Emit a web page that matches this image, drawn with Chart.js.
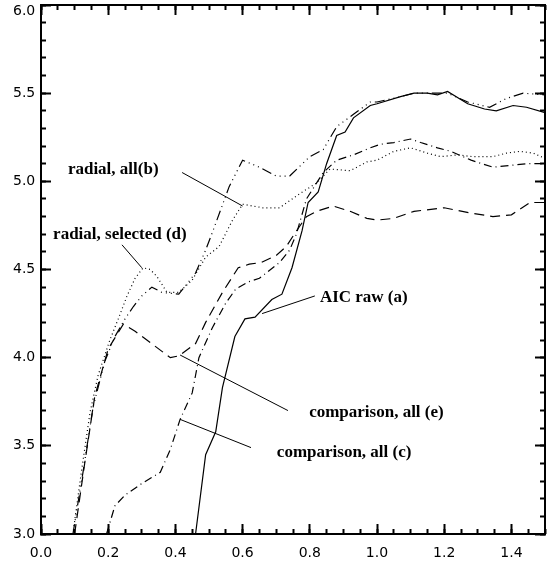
<!DOCTYPE html>
<html>
<head>
<meta charset="utf-8">
<script src="https://cdn.jsdelivr.net/npm/chart.js@4/dist/chart.umd.min.js"></script>
<style>
html,body{margin:0;padding:0;background:#fff;}
#wrap{width:551px;height:565px;position:relative;}
</style>
</head>
<body>
<div id="wrap"><canvas id="c"></canvas></div>
<script>
// ---- data ----
const xTickLabels = ["0.0","0.2","0.4","0.6","0.8","1.0","1.2","1.4"];
const yTickLabels = ["3.0","3.5","4.0","4.5","5.0","5.5","6.0"];

// (a) AIC raw - solid
const xA = [0.46,0.49,0.52,0.54,0.577,0.607,0.637,0.687,0.717,0.747,0.777,0.795,0.825,0.85,0.88,0.905,0.93,0.98,1.0,1.07,1.11,1.15,1.18,1.21,1.27,1.32,1.355,1.405,1.445,1.5];
const yA = [3.0,3.45,3.58,3.83,4.12,4.22,4.23,4.33,4.36,4.51,4.72,4.88,4.94,5.10,5.26,5.28,5.36,5.43,5.44,5.48,5.50,5.50,5.49,5.51,5.44,5.41,5.40,5.43,5.42,5.39];

// dotted
const xB = [0.095,0.12,0.146,0.17,0.205,0.23,0.256,0.28,0.304,0.325,0.345,0.375,0.41,0.45,0.49,0.53,0.57,0.60,0.66,0.71,0.77,0.82,0.86,0.92,0.97,1.0,1.05,1.10,1.15,1.19,1.24,1.285,1.345,1.385,1.425,1.465,1.5];
const yB = [3.0,3.35,3.69,3.90,4.10,4.22,4.35,4.45,4.51,4.50,4.46,4.37,4.37,4.44,4.57,4.63,4.78,4.87,4.85,4.85,4.93,4.99,5.07,5.06,5.11,5.12,5.17,5.19,5.16,5.14,5.15,5.14,5.14,5.16,5.17,5.16,5.13];

// dash-dot-dot-dot
const xD = [0.095,0.125,0.155,0.19,0.22,0.25,0.275,0.30,0.33,0.36,0.41,0.46,0.49,0.51,0.56,0.60,0.65,0.70,0.74,0.80,0.84,0.88,0.93,0.98,1.0,1.07,1.11,1.15,1.21,1.27,1.335,1.385,1.435,1.5];
const yD = [3.0,3.35,3.72,3.98,4.12,4.22,4.29,4.35,4.40,4.37,4.36,4.48,4.61,4.71,4.97,5.12,5.08,5.03,5.03,5.14,5.18,5.31,5.38,5.45,5.45,5.48,5.50,5.50,5.50,5.45,5.42,5.47,5.50,5.49];

// (e) comparison - dashed
const xE = [0.1,0.13,0.16,0.2,0.245,0.28,0.315,0.385,0.41,0.46,0.49,0.54,0.587,0.62,0.656,0.70,0.73,0.757,0.79,0.82,0.87,0.92,0.97,1.0,1.05,1.11,1.20,1.28,1.345,1.40,1.455,1.5];
const yE = [3.0,3.4,3.78,4.05,4.19,4.15,4.10,4.00,4.01,4.08,4.20,4.37,4.51,4.53,4.54,4.58,4.63,4.71,4.80,4.83,4.86,4.83,4.79,4.78,4.79,4.83,4.85,4.82,4.80,4.81,4.88,4.88];

// (c) comparison - dash-dot
const xC = [0.195,0.22,0.25,0.295,0.355,0.385,0.414,0.45,0.47,0.51,0.55,0.58,0.617,0.65,0.71,0.74,0.76,0.79,0.84,0.88,0.93,0.98,1.01,1.05,1.10,1.13,1.18,1.22,1.28,1.345,1.395,1.445,1.5];
const yC = [3.0,3.16,3.22,3.28,3.35,3.48,3.65,3.80,4.0,4.17,4.31,4.39,4.43,4.45,4.54,4.61,4.70,4.90,5.05,5.12,5.15,5.19,5.21,5.22,5.24,5.22,5.19,5.17,5.12,5.08,5.09,5.10,5.10];

// annotation labels (data coordinates)
const labelTexts = ["radial, all(b)","radial, selected (d)","AIC raw (a)","comparison, all (e)","comparison, all (c)"];
const labelPos   = [[0.080,5.065],[0.036,4.70],[0.83,4.34],[0.798,3.69],[0.702,3.46]];
const leaderFrom = [[0.42,5.05],[0.241,4.64],[0.815,4.35],[0.735,3.70],[0.625,3.49]];
const leaderTo   = [[0.60,4.86],[0.30,4.51],[0.658,4.25],[0.414,4.015],[0.414,3.65]];

function pts(xs, ys){ return xs.map((x,i)=>({x:x, y:ys[i]})); }

function ds(xs, ys, dash){
  return {data: pts(xs,ys), showLine:true, borderColor:'#000', borderWidth:1.2,
          borderDash:dash, pointRadius:0, tension:0, fill:false};
}

function zeroFit(s){
  if (s.isHorizontal()) s.height = 0; else s.width = 0;
  s.paddingLeft = 0; s.paddingRight = 0; s.paddingTop = 0; s.paddingBottom = 0;
}

// one axis (framed side / inner ticks) built from options
function axis(pos, min, max, step, tickLen, showBorder, labels){
  const ax = {
    type:'linear', position:pos, min:min, max:max,
    afterFit: zeroFit,
    grid:{display:true, drawOnChartArea:false, drawTicks:true, tickLength:-tickLen,
          tickWidth:2, tickColor:'#000'},
    border:{display:showBorder, color:'#000', width:2},
    ticks:{stepSize:step, includeBounds:false, autoSkip:false, maxRotation:0, display:!!labels,
           color:'#000', font:{family:'"DejaVu Sans"', size:14, lineHeight:0.9}}
  };
  if (labels) ax.ticks.callback = labels;
  return ax;
}

const annotatePlugin = {
  id:'annotate',
  afterDraw(chart){
    const ctx = chart.ctx;
    const sx = chart.scales.x, sy = chart.scales.y;
    ctx.save();
    ctx.setLineDash([]);
    ctx.strokeStyle = '#000';
    ctx.fillStyle = '#000';
    ctx.lineWidth = 1;
    ctx.beginPath();
    for (let i = 0; i < leaderFrom.length; i++) {
      ctx.moveTo(sx.getPixelForValue(leaderFrom[i][0]), sy.getPixelForValue(leaderFrom[i][1]));
      ctx.lineTo(sx.getPixelForValue(leaderTo[i][0]), sy.getPixelForValue(leaderTo[i][1]));
    }
    ctx.stroke();
    ctx.font = 'bold 17px "Liberation Serif", "Times New Roman", serif';
    ctx.textAlign = 'left';
    ctx.textBaseline = 'middle';
    for (let i = 0; i < labelTexts.length; i++) {
      ctx.fillText(labelTexts[i], sx.getPixelForValue(labelPos[i][0]), sy.getPixelForValue(labelPos[i][1]));
    }
    // x tick labels, placed at the x scale's tick pixels below the frame
    ctx.font = '14px "DejaVu Sans"';
    ctx.textAlign = 'center';
    const yBase = sy.getPixelForValue(3) + 19;
    for (let i = 0; i < xTickLabels.length; i++) {
      ctx.fillText(xTickLabels[i], sx.getPixelForValue(parseFloat(xTickLabels[i])), yBase);
    }
    ctx.restore();
  }
};

const yLabel = (v)=>{ const k = Math.round((v-3)/0.5); return k === 6 ? ['', yTickLabels[k]] : yTickLabels[k]; };

const scales = {
  x:   axis('bottom', 0, 1.5, 0.2, 10, true, null),
  xm:  axis('bottom', 0, 1.5, 0.05, 5, false, null),
  x2:  axis('top',    0, 1.5, 0.2, 10, true, null),
  x2m: axis('top',    0, 1.5, 0.05, 5, false, null),
  y:   axis('left',   3, 6, 0.5, 10, true, yLabel),
  ym:  axis('left',   3, 6, 0.1, 5, false, null),
  y2:  axis('right',  3, 6, 0.5, 10, true, null),
  y2m: axis('right',  3, 6, 0.1, 5, false, null)
};
scales.y.ticks.mirror = true;
scales.y.ticks.crossAlign = 'near';
scales.y.ticks.padding = -28;

new Chart(document.getElementById('c'), {
  type:'scatter',
  data:{ datasets:[
    ds(xA,yA,[]),
    ds(xB,yB,[1,3]),
    ds(xD,yD,[10,4,1,4,1,4,1,4]),
    ds(xE,yE,[10,6]),
    ds(xC,yC,[8,4,1,4])
  ]},
  options:{
    responsive:true, maintainAspectRatio:false, animation:false,
    layout:{padding:{top:5, right:6, left:41, bottom:31}},
    plugins:{legend:{display:false}, tooltip:{enabled:false}},
    scales: scales
  },
  plugins:[annotatePlugin]
});
</script>
</body>
</html>
